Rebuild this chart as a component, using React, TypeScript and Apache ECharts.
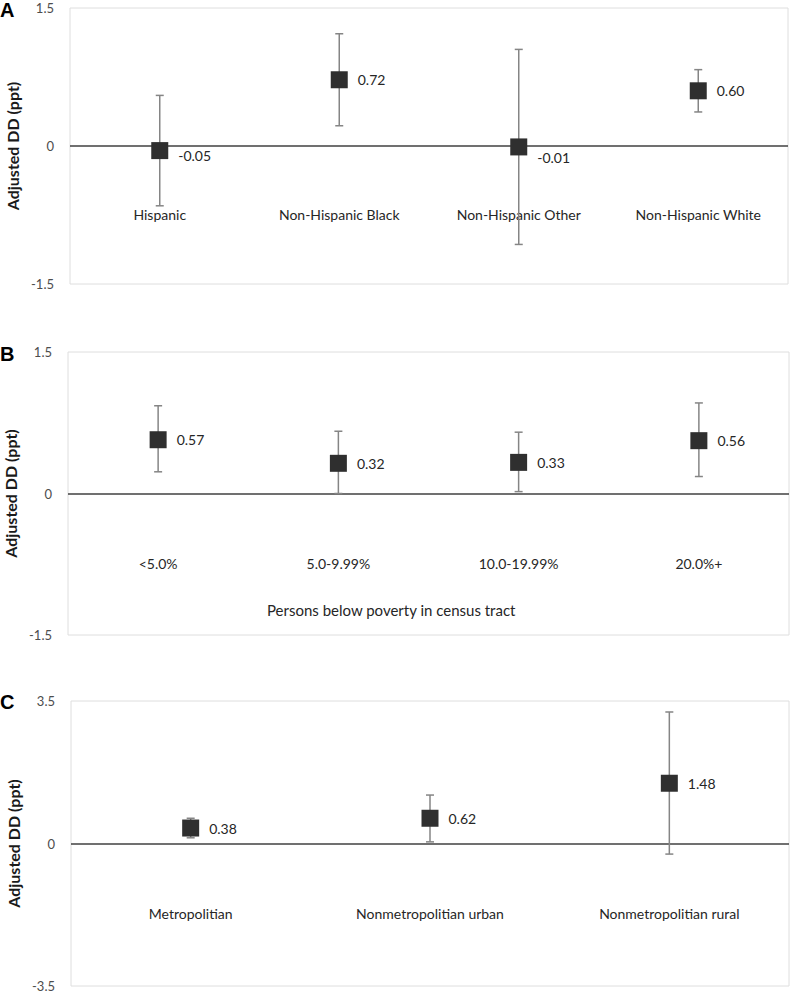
import React, { useEffect, useRef } from "react";
import * as echarts from "echarts";

// Panel A: race/ethnicity
const catsA = ["Hispanic", "Non-Hispanic Black", "Non-Hispanic Other", "Non-Hispanic White"];
const valsA = [-0.05, 0.72, -0.01, 0.6];
const lowA = [-0.65, 0.22, -1.07, 0.37];
const highA = [0.55, 1.22, 1.05, 0.83];
const labelsA = ["-0.05", "0.72", "-0.01", "0.60"];

// Panel B: poverty
const catsB = ["<5.0%", "5.0-9.99%", "10.0-19.99%", "20.0%+"];
const valsB = [0.57, 0.32, 0.33, 0.56];
const lowB = [0.23, 0.0, 0.02, 0.18];
const highB = [0.93, 0.66, 0.65, 0.96];
const labelsB = ["0.57", "0.32", "0.33", "0.56"];

// Panel C: urbanicity
const catsC = ["Metropolitian", "Nonmetropolitian urban", "Nonmetropolitian rural"];
const valsC = [0.38, 0.62, 1.48];
const lowC = [0.14, 0.04, -0.26];
const highC = [0.62, 1.19, 3.23];
const labelsC = ["0.38", "0.62", "1.48"];

const yTicksAB = [-1.5, 0, 1.5];
const yTicksC = [-3.5, 0, 3.5];

const FONT = "Lato, 'Open Sans', sans-serif";

export default function App() {
  const ref = useRef<HTMLDivElement>(null);

  useEffect(() => {
    if (!ref.current) return;
    const chart = echarts.init(ref.current, null, { renderer: "svg" });

    const grids = [
      { left: 70, top: 8, right: 2, height: 276 },
      { left: 68, top: 352, right: 1, height: 283 },
      { left: 71, top: 701, right: 1, height: 285 },
    ];
    const labelMargins = [-77, -79, -80];
    const panels = [
      { cats: catsA, vals: valsA, low: lowA, high: highA, labels: labelsA, ticks: yTicksAB },
      { cats: catsB, vals: valsB, low: lowB, high: highB, labels: labelsB, ticks: yTicksAB },
      { cats: catsC, vals: valsC, low: lowC, high: highC, labels: labelsC, ticks: yTicksC },
    ];

    const xAxis: any[] = [];
    const yAxis: any[] = [];
    const series: any[] = [];

    panels.forEach((p, i) => {
      xAxis.push({
        type: "category",
        gridIndex: i,
        data: p.cats,
        boundaryGap: true,
        axisLine: { show: false, onZero: false },
        axisTick: { show: false },
        axisLabel: {
          margin: labelMargins[i],
          fontFamily: FONT,
          fontSize: 14,
          color: "#262626",
          interval: 0,
          hideOverlap: false,
        },
      });
      const mx = p.ticks[p.ticks.length - 1];
      yAxis.push({
        type: "value",
        gridIndex: i,
        min: p.ticks[0],
        max: mx,
        interval: mx,
        name: "Adjusted DD (ppt)",
        nameLocation: "middle",
        nameGap: 46,
        nameRotate: 90,
        nameTextStyle: { fontFamily: FONT, fontSize: 16, fontWeight: "bold", color: "#1a1a1a" },
        axisLine: { show: false },
        axisTick: { show: false },
        splitLine: { show: false },
        axisLabel: {
          margin: 16,
          fontFamily: FONT,
          fontSize: 13,
          color: "#4d4d4d",
          formatter: (v: number) => (v === 0 ? "0" : v.toFixed(1)),
        },
      });

      // error bars
      series.push({
        type: "custom",
        xAxisIndex: i,
        yAxisIndex: i,
        data: p.cats.map((_, j) => [j, p.low[j], p.high[j]]),
        renderItem: (params: any, api: any) => {
          const x = api.value(0);
          const lo = api.coord([x, api.value(1)]);
          const hi = api.coord([x, api.value(2)]);
          const cap = 4;
          const style = { stroke: "#858585", lineWidth: 1.5 };
          return {
            type: "group",
            children: [
              { type: "line", shape: { x1: lo[0], y1: lo[1], x2: hi[0], y2: hi[1] }, style },
              { type: "line", shape: { x1: lo[0] - cap, y1: lo[1], x2: lo[0] + cap, y2: lo[1] }, style },
              { type: "line", shape: { x1: hi[0] - cap, y1: hi[1], x2: hi[0] + cap, y2: hi[1] }, style },
            ],
          };
        },
        z: 2,
      });

      // point estimates
      series.push({
        type: "scatter",
        xAxisIndex: i,
        yAxisIndex: i,
        symbol: "rect",
        symbolSize: 17,
        itemStyle: { color: "#2f2f2f", opacity: 1 },
        markLine: {
          silent: true,
          symbol: "none",
          label: { show: false },
          lineStyle: { color: "#404040", width: 1.5, type: "solid" },
          data: [{ yAxis: 0 }],
          z: 1,
        },
        data: p.vals.map((v, j) => ({
          value: [j, v],
          label: {
            show: true,
            position: "right",
            distance: 10,
            formatter: p.labels[j],
            fontFamily: FONT,
            fontSize: 14,
            color: "#262626",
            offset: v < 0 ? [0, v < -0.03 ? 5 : 11] : [0, 0],
          },
        })),
        z: 3,
      });
    });

    const option: any = {
      animation: false,
      backgroundColor: "#ffffff",
      grid: grids.map((g) => ({
        ...g,
        show: true,
        borderColor: "#dedede",
        borderWidth: 1,
        backgroundColor: "transparent",
        containLabel: false,
        outerBoundsMode: "none",
      })),
      xAxis,
      yAxis,
      series,
      graphic: [
        { type: "text", left: 0, top: 0, style: { text: "A", font: "bold 20px 'Liberation Sans', Arial, sans-serif", fill: "#000" } },
        { type: "text", left: 0, top: 344, style: { text: "B", font: "bold 20px 'Liberation Sans', Arial, sans-serif", fill: "#000" } },
        { type: "text", left: 0, top: 692, style: { text: "C", font: "bold 20px 'Liberation Sans', Arial, sans-serif", fill: "#000" } },
        {
          type: "text",
          left: 267,
          top: 602,
          style: { text: "Persons below poverty in census tract", font: `15px ${FONT}`, fill: "#262626" },
        },
      ],
    };

    chart.setOption(option);
    return () => chart.dispose();
  }, []);

  return (
    <div
      ref={ref}
      style={{ position: "fixed", left: 0, top: 0, width: 790, height: 994, background: "#fff" }}
    />
  );
}
